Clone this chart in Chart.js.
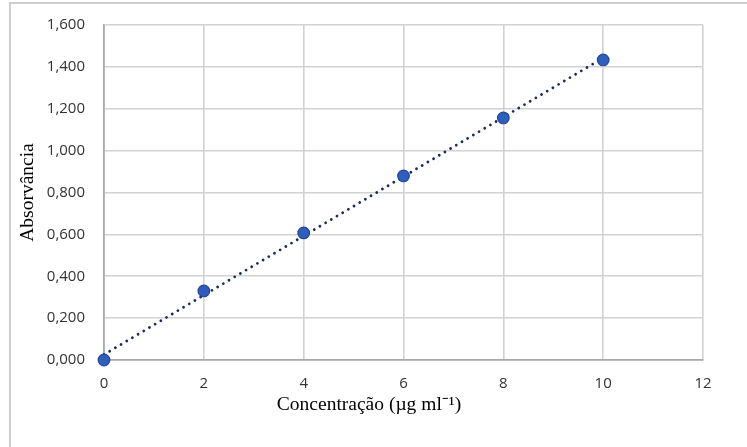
<!DOCTYPE html>
<html>
<head>
<meta charset="utf-8">
<script src="https://cdn.jsdelivr.net/npm/chart.js@4.4.1/dist/chart.umd.min.js"></script>
<style>
  html, body { margin: 0; padding: 0; background: #ffffff; }
  #wrap { position: relative; width: 747px; height: 447px; }
  #frame { position: absolute; left: 9px; top: 2px; width: 740px; height: 450px;
           border-left: 2px solid #cfcfcf; border-top: 2px solid #cfcfcf; pointer-events: none; }
</style>
</head>
<body>
<div id="wrap">
  <canvas id="c" width="747" height="447"></canvas>
  <div id="frame"></div>
</div>
<script>
// Data
const concentrations = [0, 2, 4, 6, 8, 10];
const absorbances = [0.000, 0.330, 0.607, 0.879, 1.156, 1.433];
// Linear trendline end points (as drawn in the reference)
const trendX = [0, 10];
const trendY = [0.026, 1.443];
const xTitle = 'Concentração (µg ml⁻¹)';
const yTitle = 'Absorvância';

const pointData = concentrations.map((x, i) => ({ x: x, y: absorbances[i] }));
const trendData = trendX.map((x, i) => ({ x: x, y: trendY[i] }));

const titleFont = '"Liberation Serif", "Times New Roman", serif';

const xTitlePlugin = {
  id: 'xTitlePlugin',
  afterDraw(chart) {
    const ctx = chart.ctx;
    ctx.save();
    ctx.font = '19.5px ' + titleFont;
    ctx.fillStyle = '#000000';
    ctx.textAlign = 'center';
    ctx.textBaseline = 'middle';
    ctx.fillText(xTitle, 369, 405);
    ctx.restore();
  }
};

new Chart(document.getElementById('c'), {
  type: 'scatter',
  data: {
    datasets: [
      {
        label: 'Absorvância',
        data: pointData,
        order: 0,
        clip: false,
        pointRadius: 5.8,
        pointHoverRadius: 5.8,
        pointBackgroundColor: '#2f5fba',
        pointBorderColor: '#20479a',
        pointBorderWidth: 1.2,
        showLine: false
      },
      {
        label: 'Linear',
        data: trendData,
        order: 1,
        clip: false,
        showLine: true,
        pointRadius: 0,
        borderColor: '#1b2a5c',
        borderWidth: 2.8,
        borderCapStyle: 'round',
        borderDash: [0.01, 6.6]
      }
    ]
  },
  plugins: [xTitlePlugin],
  options: {
    responsive: false,
    animation: false,
    events: [],
    layout: { padding: { left: 0, top: 25, right: 44, bottom: 0 } },
    plugins: {
      legend: { display: false },
      tooltip: { enabled: false }
    },
    scales: {
      x: {
        type: 'linear',
        min: 0,
        max: 12,
        afterFit(scale) { scale.height = 87; scale.paddingLeft = 0; scale.paddingRight = 0; },
        ticks: {
          stepSize: 2,
          padding: 15,
          color: '#333333',
          font: { family: '"Open Sans", sans-serif', size: 15 },
          maxRotation: 0
        },
        grid: {
          color: (c) => c.tick && c.tick.value === 0 ? '#a8a8a8' : '#d2d2d2',
          lineWidth: 1.6,
          drawTicks: false
        },
        border: { display: true, color: '#a8a8a8', width: 1.6 },
        title: { display: false }
      },
      y: {
        type: 'linear',
        min: 0,
        max: 1.6,
        afterFit(scale) { scale.width = 104; scale.paddingTop = 0; scale.paddingBottom = 0; },
        ticks: {
          stepSize: 0.2,
          padding: 19,
          color: '#333333',
          font: { family: '"Open Sans", sans-serif', size: 15 },
          callback: (v) => v.toFixed(3).replace('.', ',')
        },
        grid: {
          color: (c) => c.tick && c.tick.value === 0 ? '#a8a8a8' : '#d2d2d2',
          lineWidth: 1.6,
          drawTicks: false
        },
        border: { display: true, color: '#a8a8a8', width: 1.6 },
        title: {
          display: true,
          text: yTitle,
          color: '#000000',
          font: { family: titleFont, size: 19.5 },
          padding: { top: 16, bottom: 0 }
        }
      }
    }
  }
});
</script>
</body>
</html>
